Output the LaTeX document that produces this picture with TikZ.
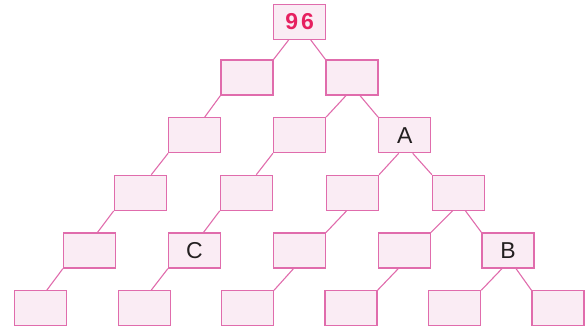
\documentclass[tikz,border=0pt]{standalone}
\usepackage{fontspec}
\setsansfont{Liberation Sans}

\definecolor{boxline}{RGB}{224,108,172}
\definecolor{boxfill}{RGB}{250,236,244}
\definecolor{topnum}{RGB}{230,32,96}
\definecolor{letter}{RGB}{35,31,32}

\tikzset{
  cell/.style={draw=boxline, fill=boxfill, line width=1.2pt, minimum width=52pt,
    minimum height=35pt, inner sep=0pt, font=\sffamily\fontsize{23}{26}\selectfont, text=letter},
  link/.style={draw=boxline, line width=1.1pt}
}

\begin{document}
\begin{tikzpicture}[x=1pt, y=-1pt]

  \useasboundingbox (0,0) rectangle (585,329);

  % top of the pyramid
  \node[cell, text=topnum, font=\sffamily\bfseries\fontsize{23}{26}\selectfont] (top) at (299.7,21.8) {9\kern3pt6};

  % row 1 and row 2
  \node[cell] (b11) at (247,77.5) {};
  \node[cell] (b12) at (352,77.5) {};
  \node[cell] (b21) at (194.7,135.2) {};
  \node[cell] (b22) at (299.5,135.2) {};
  \node[cell] (b23) at (404.7,135.2) {A};

  % row 3
  \node[cell] (b31) at (140.3,192.8) {};
  \node[cell] (b32) at (246.3,192.8) {};
  \node[cell] (b33) at (352.5,192.8) {};
  \node[cell] (b34) at (458.5,192.8) {};

  % row 4
  \node[cell] (b41) at (89.5,250.5) {};
  \node[cell] (b42) at (194.5,250.5) {C};
  \node[cell] (b43) at (299.5,250.5) {};
  \node[cell] (b44) at (404.3,250.5) {};
  \node[cell] (b45) at (508,250.5) {B};

  % bottom row
  \node[cell] (b51) at (40.8,308.3) {};
  \node[cell] (b52) at (144.2,308.3) {};
  \node[cell] (b53) at (247.5,308.3) {};
  \node[cell] (b54) at (351,308.3) {};
  \node[cell] (b55) at (454.7,308.3) {};
  \node[cell] (b56) at (558,308.3) {};

  % links between the cells
  \draw[link] ([xshift=-11pt]top.south) -- (b11.north east);
  \draw[link] ([xshift=11pt]top.south) -- (b12.north west);
  \draw[link] (b11.south west) -- ([xshift=10pt]b21.north);
  \draw[link] ([xshift=-6pt]b12.south) -- (b22.north east);
  \draw[link] ([xshift=8pt]b12.south) -- (b23.north west);
  \draw[link] (b21.south west) -- ([xshift=11pt]b31.north);
  \draw[link] (b22.south west) -- ([xshift=10pt]b32.north);
  \draw[link] ([xshift=-6pt]b23.south) -- (b33.north east);
  \draw[link] ([xshift=8pt]b23.south) -- (b34.north west);
  \draw[link] (b31.south west) -- ([xshift=8pt]b41.north);
  \draw[link] (b32.south west) -- ([xshift=9pt]b42.north);
  \draw[link] ([xshift=-6pt]b33.south) -- (b43.north east);
  \draw[link] ([xshift=-6pt]b34.south) -- (b44.north east);
  \draw[link] ([xshift=7pt]b34.south) -- (b45.north west);
  \draw[link] (b41.south west) -- ([xshift=6pt]b51.north);
  \draw[link] (b42.south west) -- ([xshift=7pt]b52.north);
  \draw[link] ([xshift=-6pt]b43.south) -- (b53.north east);
  \draw[link] ([xshift=-6pt]b44.south) -- (b54.north east);
  \draw[link] ([xshift=-6pt]b45.south) -- (b55.north east);
  \draw[link] ([xshift=8pt]b45.south) -- (b56.north west);

\end{tikzpicture}
\end{document}
